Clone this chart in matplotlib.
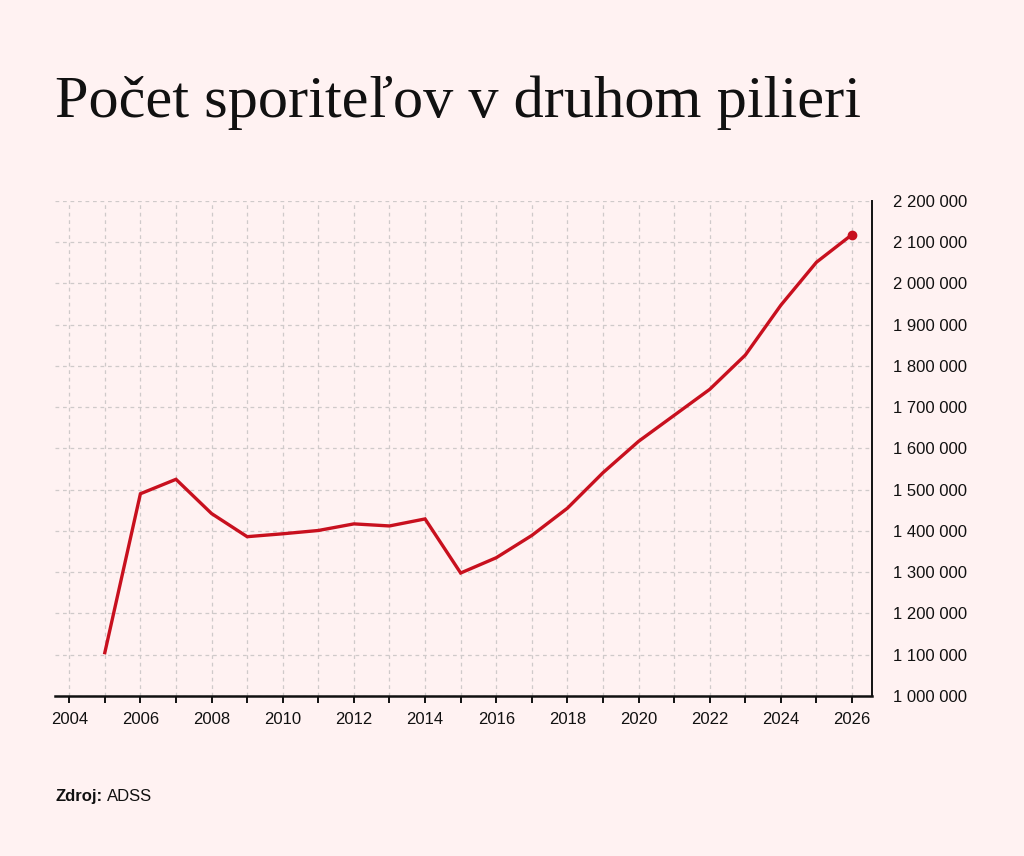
import matplotlib
matplotlib.use("Agg")
import matplotlib.pyplot as plt
from matplotlib.ticker import FuncFormatter, MultipleLocator

years = [2005, 2006, 2007, 2008, 2009, 2010, 2011, 2012, 2013, 2014, 2015,
         2016, 2017, 2018, 2019, 2020, 2021, 2022, 2023, 2024, 2025, 2026]
savers = [1105000, 1490000, 1525000, 1442000, 1386000, 1393000, 1401000, 1417000,
          1412000, 1429000, 1298000, 1335000, 1389000, 1455000, 1541000, 1617000,
          1680000, 1743000, 1826000, 1947000, 2051000, 2118000]

title = "Počet sporiteľov v druhom pilieri"
source_bold = "Zdroj:"
source_text = "ADSS"

BG = "#FFF2F2"
RED = "#C8101E"
INK = "#111111"

fig = plt.figure(figsize=(10.24, 8.56), dpi=100, facecolor=BG)
ax = fig.add_axes([55/1024, 1 - 696/856, (872-55)/1024, (696-200.7)/856])
ax.set_facecolor(BG)

ax.plot(years, savers, color=RED, lw=2.4, solid_joinstyle="miter", zorder=3)
ax.plot(years[-1], savers[-1], "o", color=RED, ms=6, zorder=4)

ax.set_xlim(2003.6, 2026.56)
ax.set_ylim(1000000, 2200000)

ax.xaxis.set_major_locator(MultipleLocator(2))
ax.xaxis.set_minor_locator(MultipleLocator(1))
ax.yaxis.set_major_locator(MultipleLocator(100000))
ax.yaxis.set_major_formatter(FuncFormatter(lambda v, p: f"{int(v):,}".replace(",", " ")))

ax.yaxis.tick_right()
for s in ["top", "left"]:
    ax.spines[s].set_visible(False)
ax.spines["bottom"].set_linewidth(1.8)
ax.spines["right"].set_linewidth(1.4)
ax.spines["bottom"].set_color(INK)
ax.spines["right"].set_color(INK)

ax.tick_params(axis="x", which="both", length=5, width=1.4, color=INK,
               labelsize=12, pad=6.5, labelcolor=INK)
ax.tick_params(axis="y", length=0, labelsize=12, pad=15, labelcolor=INK)
for lab in ax.get_xticklabels() + ax.get_yticklabels():
    lab.set_fontfamily("Liberation Sans")

ax.grid(True, which="both", axis="x", color="#CFCACA", ls=(0, (3, 3)), lw=0.9)
ax.grid(True, which="major", axis="y", color="#CFCACA", ls=(0, (3, 3)), lw=0.9)
ax.set_axisbelow(True)

fig.text(55/1024, 1 - 117/856, title, family="Liberation Serif", fontsize=43.5,
         color=INK, ha="left", va="baseline")

t = fig.text(55/1024, 1 - 801/856, source_bold, family="Liberation Sans",
             fontsize=12, fontweight="bold", color=INK, ha="left", va="baseline")
fig.canvas.draw()
bb = t.get_window_extent(renderer=fig.canvas.get_renderer())
fig.text((bb.x1 + 4.5) / 1024, 1 - 801/856, source_text, family="Liberation Sans",
         fontsize=12, color=INK, ha="left", va="baseline")

fig.savefig("out.png", dpi=100, facecolor=BG)
